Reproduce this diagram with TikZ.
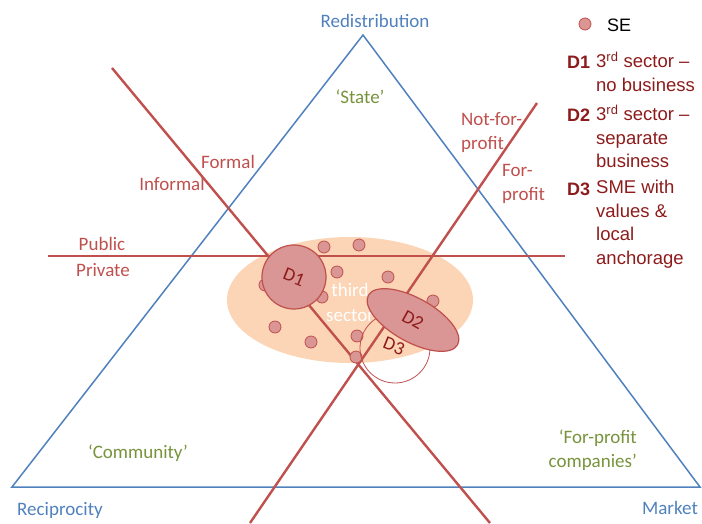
\documentclass[tikz,border=0pt]{standalone}
\usepackage{fontspec}
\setmainfont{Carlito}
\newfontfamily\legfont{Liberation Sans}
\usetikzlibrary{shapes.geometric}
\definecolor{triblue}{HTML}{4F81BD}
\definecolor{linered}{HTML}{C0504D}
\definecolor{peach}{HTML}{FBD5B5}
\definecolor{dotfill}{HTML}{D99694}
\definecolor{labgreen}{HTML}{77933C}
\definecolor{darkred}{HTML}{8E1B1B}
\tikzset{
  tri/.style={draw=triblue, line width=1.5pt},
  divider/.style={draw=linered, line width=2.4pt},
  se/.style={circle, fill=dotfill, draw=linered, line width=0.8pt, minimum size=12pt, inner sep=0pt},
  dshape/.style={fill=dotfill, draw=linered, line width=1.2pt, inner sep=0pt, text=darkred, font=\fontsize{19}{23}\selectfont},
  redlab/.style={text=linered, font=\fontsize{19}{24}\selectfont, inner sep=0pt},
  greenlab/.style={text=labgreen, font=\fontsize{19}{24}\selectfont, inner sep=0pt},
  bluelab/.style={text=triblue, font=\fontsize{19}{24}\selectfont, inner sep=0pt},
  legkey/.style={text=darkred, font=\legfont\bfseries\fontsize{18}{24}\selectfont, inner sep=0pt, anchor=west},
  legtext/.style={text=darkred, font=\legfont\fontsize{18.5}{23.5}\selectfont, inner sep=0pt, anchor=north west, align=left},
}
\begin{document}
\begin{tikzpicture}[x=1pt, y=-1pt]
\useasboundingbox (0,0) rectangle (702,523);
% triangle
\coordinate (top) at (363,35);
\coordinate (bl) at (12,487);
\coordinate (br) at (700,487);
\draw[tri, line join=miter] (top) -- (br) -- (bl) -- cycle;
% third sector ellipse
\node[ellipse, fill=peach, minimum width=246pt, minimum height=126pt, inner sep=0pt] (ts) at (350,300) {};
% dividing lines
\coordinate (h1) at (48,256);
\coordinate (h2) at (565,256);
\coordinate (a1) at (112,68);
\coordinate (a2) at (490,523);
\coordinate (b1) at (537,103);
\coordinate (b2) at (250,523);
\draw[divider] (h1) -- (h2);
\draw[divider] (a1) -- (a2);
\draw[divider] (b1) -- (b2);
% SE dots
\node[se] (s1) at (324,247) {};
\node[se] (s2) at (359,245) {};
\node[se] (s3) at (337,272) {};
\node[se] (s4) at (388,277) {};
\node[se] (s5) at (322,297) {};
\node[se] (s6) at (433,301) {};
\node[se] (s7) at (275,327) {};
\node[se] (s8) at (311,342) {};
\node[se] (s9) at (357,336) {};
\node[se] (s10) at (356,357) {};
\node[se] (s11) at (265,285) {};
% third sector text
\node[text=white, font=\fontsize{19}{25}\selectfont, align=center, inner sep=0pt] (tstext) at (350,302) {third\\sector};
% D3
\node[circle, draw=linered, line width=0.8pt, minimum size=70pt, inner sep=0pt] (D3) at (395,348) {};
% D1
\node[dshape, circle, minimum size=64pt, rotate=-22] (D1) at (294,277) {D1};
% D2
\node[dshape, ellipse, minimum width=102pt, minimum height=44pt, rotate=-29] (D2) at (413,320) {D2};
\node[text=darkred, font=\fontsize{19}{23}\selectfont, rotate=-22, inner sep=0pt] (D3t) at (394,346) {D3};
% labels
\node[bluelab] (redis) at (375,21) {Redistribution};
\node[bluelab] (recip) at (60,510) {Reciprocity};
\node[bluelab] (market) at (670,508) {Market};
\node[greenlab] (state) at (360,97) {‘State’};
\node[greenlab] (comm) at (138,453) {‘Community’};
\node[greenlab, align=right, anchor=east] (fpc) at (637,450) {‘For-profit\\companies’};
\node[redlab] (formal) at (228,162) {Formal};
\node[redlab] (informal) at (172,184) {Informal};
\node[redlab] (public) at (102,244) {Public};
\node[redlab] (private) at (103,270) {Private};
\node[redlab, align=left, anchor=west] (nfp) at (461,133) {Not-for-\\profit};
\node[redlab, align=left, anchor=west] (fp) at (502,184) {For-\\profit};
% legend
\node[se] (legdot) at (585,24) {};
\node[text=black, font=\legfont\fontsize{18}{24}\selectfont, inner sep=0pt, anchor=west] (legse) at (607,25) {SE};
\node[legkey] (k1) at (567,62) {D1};
\node[legtext] (t1) at (596,52) {3\textsuperscript{rd} sector –\\no business};
\node[legkey] (k2) at (567,115) {D2};
\node[legtext] (t2) at (596,105) {3\textsuperscript{rd} sector –\\separate\\business};
\node[legkey] (k3) at (567,189) {D3};
\node[legtext] (t3) at (596,180) {SME with\\values \&\\local\\anchorage};
\end{tikzpicture}
\end{document}
